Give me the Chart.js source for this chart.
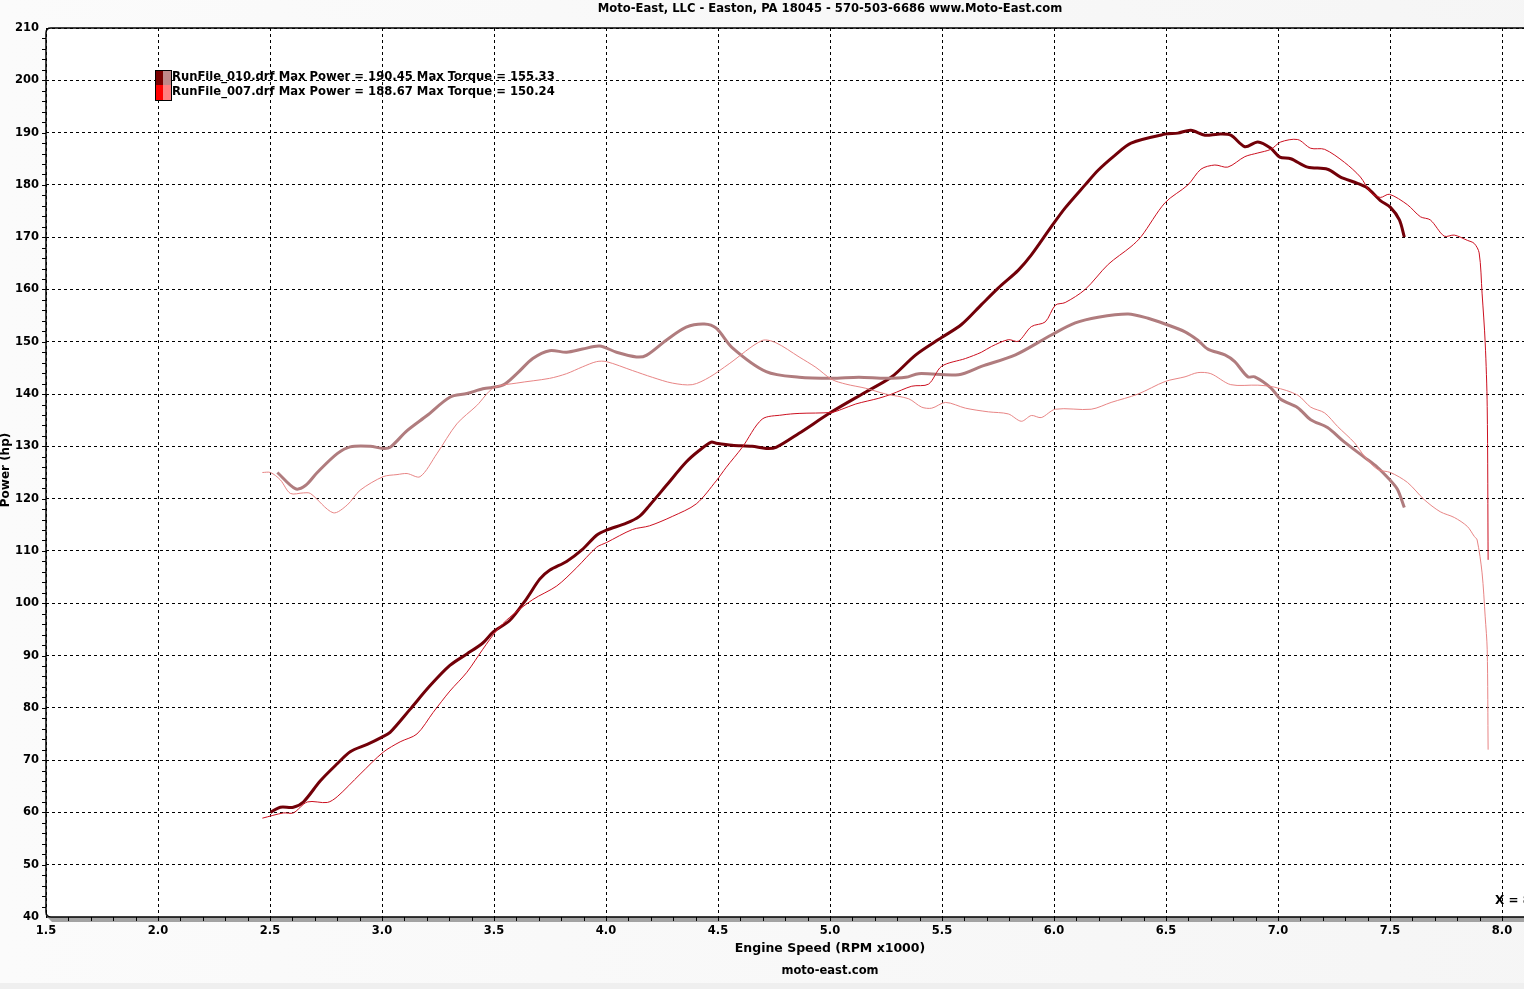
<!DOCTYPE html>
<html>
<head>
<meta charset="utf-8">
<script src="https://cdn.jsdelivr.net/npm/chart.js@4.4.1/dist/chart.umd.min.js"></script>
<style>
html,body{margin:0;padding:0;overflow:hidden;background:#f8f8f8;width:1524px;height:989px;}
#wrap{position:absolute;left:0;top:0;width:1662px;height:989px;}
</style>
</head>
<body>
<div id="wrap"><canvas id="c" width="1662" height="989"></canvas></div>
<script>
// ---- data (RPM x1000, hp) ----
const pow010_rpm=[2.502,2.546,2.604,2.649,2.724,2.800,2.858,2.934,3.000,3.036,3.125,3.214,3.303,3.379,3.450,3.499,3.570,3.646,3.704,3.748,3.824,3.895,3.958,4.002,4.091,4.149,4.194,4.269,4.358,4.416,4.470,4.492,4.563,4.652,4.715,4.759,4.862,5.008,5.160,5.276,5.383,5.498,5.587,5.676,5.752,5.841,5.899,5.988,6.050,6.139,6.197,6.273,6.344,6.496,6.553,6.611,6.674,6.732,6.789,6.852,6.910,6.968,7.008,7.057,7.132,7.221,7.279,7.355,7.399,7.457,7.502,7.542,7.564];
const pow010_hp=[60.0,61.0,61.0,62.0,66.0,69.3,71.6,73.0,74.4,75.3,79.7,84.2,88.1,90.3,92.4,94.6,96.7,100.9,104.6,106.3,108.0,110.3,113.0,114.0,115.3,116.6,118.7,122.5,127.0,129.2,130.8,130.6,130.2,130.0,129.6,129.8,132.5,136.6,140.4,143.3,147.5,150.8,153.3,157.1,160.3,163.7,166.6,172.0,175.6,180.0,182.8,185.7,188.0,189.7,189.9,190.45,189.5,189.7,189.5,187.3,188.2,187.0,185.3,185.0,183.4,183.0,181.5,180.3,179.4,177.0,175.7,173.3,170.0];

const tq010_rpm=[2.533,2.613,2.658,2.711,2.800,2.858,2.947,3.005,3.036,3.112,3.201,3.303,3.379,3.450,3.539,3.602,3.673,3.748,3.824,3.895,3.971,4.047,4.136,4.180,4.269,4.358,4.439,4.492,4.563,4.715,4.862,5.008,5.129,5.249,5.338,5.396,5.574,5.676,5.828,5.988,6.095,6.197,6.331,6.420,6.496,6.585,6.642,6.687,6.763,6.807,6.865,6.896,6.968,7.012,7.088,7.146,7.221,7.297,7.386,7.444,7.497,7.533,7.564];
const tq010_hp=[125.0,121.9,122.5,125.0,128.6,129.9,130.0,129.6,129.8,133.0,135.9,139.4,140.1,141.0,141.7,143.9,146.8,148.3,148.0,148.6,149.2,148.0,147.1,147.4,150.3,152.8,153.4,152.6,148.9,144.3,143.2,143.0,143.2,143.0,143.2,143.9,143.7,145.3,147.5,151.3,153.6,154.7,155.33,154.5,153.4,151.9,150.3,148.6,147.5,146.2,143.3,143.3,141.2,139.0,137.4,135.1,133.6,130.8,127.9,126.0,123.7,121.8,118.3];

const pow007_rpm=[2.466,2.560,2.604,2.667,2.756,2.800,2.902,3.005,3.081,3.156,3.228,3.303,3.379,3.450,3.512,3.570,3.673,3.780,3.869,3.958,4.002,4.118,4.194,4.296,4.403,4.492,4.537,4.608,4.697,4.786,4.862,5.008,5.053,5.115,5.218,5.276,5.365,5.440,5.498,5.605,5.676,5.721,5.796,5.841,5.899,5.961,6.006,6.050,6.139,6.242,6.344,6.389,6.496,6.598,6.656,6.718,6.776,6.852,6.910,6.968,7.012,7.088,7.146,7.208,7.297,7.368,7.413,7.457,7.497,7.578,7.636,7.680,7.742,7.787,7.845,7.876,7.898,7.911,7.925,7.934,7.938];
const pow007_hp=[58.9,59.9,59.9,62.0,61.9,63.0,67.3,71.5,73.5,75.0,79.1,83.2,86.8,91.2,94.8,97.3,100.7,103.3,106.8,110.7,111.6,114.1,114.8,116.6,119.0,123.4,126.0,129.8,135.2,136.0,136.3,136.5,137.1,138.1,139.2,140.0,141.5,141.9,145.3,146.8,148.0,149.1,150.4,150.1,152.9,153.8,157.0,157.5,160.0,164.8,168.2,170.1,176.6,180.0,183.0,183.8,183.4,185.4,186.1,186.8,188.2,188.67,187.0,186.8,184.3,181.5,178.6,177.6,178.2,176.2,173.9,173.3,170.2,170.4,169.4,168.8,167.0,159.3,149.8,137.6,108.3];

const tq007_rpm=[2.466,2.502,2.546,2.591,2.649,2.680,2.782,2.845,2.902,3.005,3.067,3.112,3.170,3.245,3.334,3.423,3.499,3.602,3.748,3.824,3.895,3.958,4.002,4.118,4.207,4.296,4.385,4.461,4.550,4.697,4.759,4.862,4.937,5.008,5.071,5.160,5.249,5.351,5.409,5.454,5.516,5.605,5.707,5.796,5.854,5.899,5.943,6.006,6.166,6.255,6.375,6.496,6.585,6.642,6.700,6.789,6.910,6.986,7.088,7.146,7.208,7.266,7.341,7.386,7.444,7.502,7.578,7.653,7.724,7.787,7.845,7.876,7.889,7.911,7.925,7.934,7.938];
const tq007_hp=[125.0,125.0,123.6,121.0,121.1,121.0,117.3,118.8,121.6,124.2,124.6,124.8,124.2,128.6,134.3,137.8,141.2,142.1,143.0,143.9,145.2,146.2,146.2,144.5,143.2,142.1,141.8,143.2,145.8,150.24,149.8,147.1,145.1,142.8,141.9,141.1,140.0,139.1,137.5,137.3,138.4,137.3,136.6,136.2,134.8,135.9,135.5,137.1,137.1,138.4,140.0,142.4,143.3,144.1,143.9,141.8,141.7,141.3,139.8,137.5,136.4,133.8,130.7,128.1,125.6,125.0,123.1,119.8,117.5,116.4,114.7,112.8,112.1,105.8,97.4,91.1,72.0];

const xTickValues=[1.5,2.0,2.5,3.0,3.5,4.0,4.5,5.0,5.5,6.0,6.5,7.0,7.5,8.0];
const yTickValues=[40,50,60,70,80,90,100,110,120,130,140,150,160,170,180,190,200,210];
const legendLines=["RunFile_010.drf Max Power = 190.45 Max Torque = 155.33","RunFile_007.drf Max Power = 188.67 Max Torque = 150.24"];
const titleText="Moto-East, LLC - Easton, PA 18045 - 570-503-6686 www.Moto-East.com";

const pts=(xs,ys)=>xs.map((x,i)=>({x:x,y:ys[i]}));
const FONT='"DejaVu Sans", Verdana, sans-serif';

const deco={
  id:'deco',
  beforeDraw(chart){
    const {ctx,chartArea:a}=chart;
    ctx.save();
    const g=ctx.createLinearGradient(0,0,1662,0);
    g.addColorStop(0,'#fbfbfb');g.addColorStop(1,'#f5f5f5');
    ctx.fillStyle=g;ctx.fillRect(0,0,1662,989);
    ctx.fillStyle='#efefef';ctx.fillRect(0,983,1662,6);
    ctx.fillStyle='#ffffff';
    ctx.beginPath();
    const r=5;
    ctx.moveTo(a.left+r,a.top);ctx.lineTo(a.right,a.top);ctx.lineTo(a.right,a.bottom);
    ctx.lineTo(a.left+r,a.bottom);ctx.quadraticCurveTo(a.left,a.bottom,a.left,a.bottom-r);
    ctx.lineTo(a.left,a.top+r);ctx.quadraticCurveTo(a.left,a.top,a.left+r,a.top);
    ctx.fill();
    ctx.restore();
  },
  afterDraw(chart){
    const {ctx,chartArea:a,scales:{x,y}}=chart;
    ctx.save();
    // gray band under x axis
    ctx.fillStyle='#a3a3a3';
    ctx.beginPath();ctx.moveTo(a.left+1,a.bottom);ctx.lineTo(a.right,a.bottom);ctx.lineTo(a.right,a.bottom+5);ctx.lineTo(a.left+6,a.bottom+5);ctx.closePath();ctx.fill();
    // frame
    ctx.strokeStyle='#000';ctx.lineWidth=1.5;
    const r=5;
    ctx.beginPath();
    ctx.moveTo(a.right+50,a.top);ctx.lineTo(a.left+r,a.top);ctx.quadraticCurveTo(a.left,a.top,a.left,a.top+r);
    ctx.lineTo(a.left,a.bottom-r);ctx.quadraticCurveTo(a.left,a.bottom,a.left+r,a.bottom);
    ctx.lineTo(a.right+50,a.bottom);
    ctx.stroke();
    // minor ticks
    ctx.lineWidth=1;ctx.beginPath();
    for(let v=1.6;v<8.5;v+=0.1){const px=Math.round(x.getPixelForValue(v))+0.5;ctx.moveTo(px,a.bottom);ctx.lineTo(px,a.bottom+4);}
    for(let v=42;v<210;v+=2){const py=Math.round(y.getPixelForValue(v))+0.5;ctx.moveTo(a.left,py);ctx.lineTo(a.left-4,py);}
    ctx.stroke();
    // texts
    ctx.fillStyle='#000';
    ctx.font='bold 11.6px '+FONT;ctx.textAlign='center';ctx.textBaseline='middle';
    ctx.fillText(titleText,830,9);
    ctx.font='bold 12.5px '+FONT;
    ctx.fillText('Engine Speed (RPM x1000)',830,949);
    ctx.font='bold 11.5px '+FONT;
    ctx.fillText('moto-east.com',830,971);
    ctx.save();ctx.translate(6,470);ctx.rotate(-Math.PI/2);ctx.font='bold 12px '+FONT;ctx.fillText('Power (hp)',0,0);ctx.restore();
    ctx.textAlign='left';ctx.font='bold 12px '+FONT;
    ctx.fillText('X = 8.09',1495,901);
    // legend
    const lx=155,ly=70,bw=8,bh=15;
    const cols=[['#7a0000','#c08a8a'],['#ff0000','#ff8080']];
    for(let i=0;i<2;i++){
      ctx.fillStyle=cols[i][0];ctx.fillRect(lx,ly+i*bh,bw,bh);
      ctx.fillStyle=cols[i][1];ctx.fillRect(lx+bw,ly+i*bh,bw,bh);
    }
    ctx.strokeStyle='#000';ctx.lineWidth=1;ctx.strokeRect(lx+0.5,ly+0.5,2*bw,2*bh);
    ctx.fillStyle='#000';ctx.font='bold 11.6px '+FONT;ctx.textBaseline='middle';
    legendLines.forEach((t,i)=>ctx.fillText(t,172,ly+7+i*bh));
    ctx.restore();
  }
};

new Chart(document.getElementById('c'),{
  type:'line',
  data:{datasets:[
    {label:'RunFile_007 Torque',data:pts(tq007_rpm,tq007_hp),borderColor:'#e88585',borderWidth:1,pointRadius:0,tension:0.3},
    {label:'RunFile_007 Power',data:pts(pow007_rpm,pow007_hp),borderColor:'#cc1020',borderWidth:1,pointRadius:0,tension:0.3},
    {label:'RunFile_010 Torque',data:pts(tq010_rpm,tq010_hp),borderColor:'#b07c7e',borderWidth:3,pointRadius:0,tension:0.3},
    {label:'RunFile_010 Power',data:pts(pow010_rpm,pow010_hp),borderColor:'#720008',borderWidth:3,pointRadius:0,tension:0.3}
  ]},
  options:{
    responsive:false,animation:false,
    layout:{padding:{top:28,right:48,left:0,bottom:0}},
    plugins:{legend:{display:false},tooltip:{enabled:false}},
    scales:{
      x:{type:'linear',min:1.5,max:8.5,
        afterFit(s){s.height=72;},
        afterBuildTicks(s){s.ticks=xTickValues.map(v=>({value:v}));},
        ticks:{padding:7,color:'#000',font:{family:FONT,size:11.5,weight:'bold'},maxRotation:0,autoSkip:false,callback:v=>v.toFixed(1)},
        grid:{color:'#000',lineWidth:1,drawTicks:false},
        border:{display:false,dash:[3,3]}
      },
      y:{type:'linear',min:40,max:210,
        afterFit(s){s.width=46;},
        afterBuildTicks(s){s.ticks=yTickValues.map(v=>({value:v}));},
        ticks:{padding:7,color:'#000',font:{family:FONT,size:11.5,weight:'bold'},autoSkip:false,callback:v=>String(v)},
        grid:{color:'#000',lineWidth:1,drawTicks:false},
        border:{display:false,dash:[3,3]}
      }
    }
  },
  plugins:[deco]
});
</script>
</body>
</html>
